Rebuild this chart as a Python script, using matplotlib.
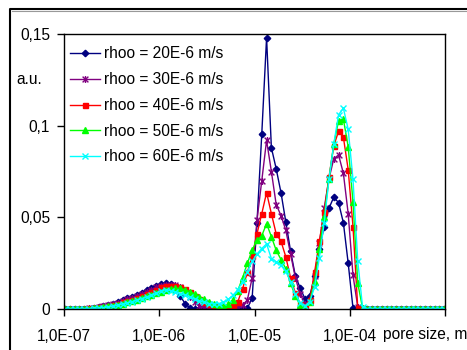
import numpy as np
import matplotlib
matplotlib.use("Agg")
import matplotlib.pyplot as plt
from matplotlib.path import Path
from matplotlib.lines import Line2D

plt.rcParams['font.family'] = ['Liberation Sans', 'DejaVu Sans']

# ---- data ----
log_start = -6.99
log_step = 0.0504
n_points = 80
pore_size = 10 ** (log_start + log_step * np.arange(n_points))

labels = ["rhoo = 20E-6 m/s", "rhoo = 30E-6 m/s", "rhoo = 40E-6 m/s",
          "rhoo = 50E-6 m/s", "rhoo = 60E-6 m/s"]

s20 = ([0]*6 +
       [0.0005, 0.001, 0.0016, 0.0022, 0.003, 0.0037, 0.0047, 0.0058, 0.0068, 0.0078,
        0.009, 0.0102, 0.0115, 0.0128, 0.0137, 0.0143, 0.0135, 0.0115, 0.0072, 0.003, 0.0006] +
       [0]*11 +
       [0.0003, 0.0062, 0.047, 0.0955, 0.148, 0.088, 0.0765, 0.0635, 0.0476, 0.0315,
        0.018, 0.0115, 0.0055, 0.007, 0.018, 0.033, 0.045, 0.055, 0.061, 0.058,
        0.047, 0.025, 0.0005] +
       [0]*19)

s30 = ([0]*5 +
       [0.0003, 0.0006, 0.001, 0.0015, 0.002, 0.0027, 0.0034, 0.0042, 0.0052, 0.0062,
        0.0072, 0.0083, 0.0094, 0.0106, 0.0118, 0.0128, 0.0133, 0.0133, 0.013, 0.0118,
        0.0098, 0.0065, 0.0038, 0.0018, 0.0008, 0.0002] +
       [0]*4 +
       [0.0002, 0.0005, 0.002, 0.005, 0.017, 0.0485, 0.07, 0.092, 0.075, 0.057,
        0.051, 0.043, 0.03, 0.017, 0.008, 0.003, 0.004, 0.018, 0.036, 0.055,
        0.071, 0.082, 0.084, 0.074, 0.052, 0.0185, 0.001] +
       [0]*18)

s40 = ([0]*5 +
       [0.0003, 0.0006, 0.0009, 0.0013, 0.0017, 0.0022, 0.0029, 0.0036, 0.0043, 0.005,
        0.006, 0.007, 0.0081, 0.0092, 0.0105, 0.0118, 0.0123, 0.0126, 0.0126, 0.012,
        0.011, 0.0092, 0.0073, 0.0055, 0.0038, 0.0025, 0.0014, 0.0007, 0.0005, 0.0008,
        0.0015, 0.004, 0.011, 0.02, 0.029, 0.041, 0.052, 0.0635, 0.052, 0.041,
        0.037, 0.0285, 0.017, 0.0086, 0.0027, 0.0015, 0.005, 0.02, 0.037, 0.053,
        0.072, 0.089, 0.097, 0.0937, 0.076, 0.045, 0.0004] +
       [0]*18)

s50 = ([0]*5 +
       [0.0002, 0.0004, 0.0007, 0.001, 0.0014, 0.0018, 0.0024, 0.003, 0.0036, 0.0043,
        0.0051, 0.006, 0.0069, 0.0078, 0.0087, 0.0095, 0.0105, 0.011, 0.0113, 0.0112,
        0.0105, 0.0095, 0.0082, 0.0068, 0.0052, 0.0038, 0.0026, 0.0018, 0.0017, 0.0025,
        0.005, 0.01, 0.017, 0.025, 0.032, 0.0375, 0.04, 0.0465, 0.0395, 0.032,
        0.027, 0.022, 0.014, 0.007, 0.002, 0.0008, 0.004, 0.015, 0.033, 0.05,
        0.071, 0.09, 0.1027, 0.1035, 0.0885, 0.0585, 0.014, 0.0003] +
       [0]*17)

s60 = ([0]*5 +
       [0.0002, 0.0003, 0.0005, 0.0008, 0.0011, 0.0015, 0.002, 0.0027, 0.0033, 0.004,
        0.0048, 0.0057, 0.0066, 0.0075, 0.0085, 0.0098, 0.0105, 0.01, 0.0093, 0.0083,
        0.0075, 0.0065, 0.0054, 0.0045, 0.0036, 0.003, 0.0028, 0.003, 0.0036, 0.0052,
        0.0075, 0.0105, 0.015, 0.0204, 0.026, 0.03, 0.033, 0.0355, 0.0275, 0.0258,
        0.0238, 0.0205, 0.015, 0.008, 0.0035, 0.0018, 0.004, 0.012, 0.028, 0.047,
        0.0707, 0.09, 0.106, 0.1095, 0.098, 0.0707, 0.026, 0.001] +
       [0]*17)

series = [s20, s30, s40, s50, s60]
colors = ["#000080", "#800080", "#FF0000", "#00FF00", "#00FFFF"]

x_ticks = [1e-7, 1e-6, 1e-5, 1e-4]
x_ticklabels = ["1,0E-07", "1,0E-06", "1,0E-05", "1,0E-04"]
y_ticks = [0, 0.05, 0.1, 0.15]
y_ticklabels = ["0", "0,05", "0,1", "0,15"]

# star marker (x with vertical bar), Excel style
star = Path([(-1, -1), (1, 1), (-1, 1), (1, -1), (0, -1.2), (0, 1.2)],
            [Path.MOVETO, Path.LINETO] * 3)
markers = ["D", star, "s", "^", "x"]
msizes = [3.3, 5, 3.6, 4.2, 5]

FS = 11.2
W, H = 467, 350
fig = plt.figure(figsize=(W / 100, H / 100), dpi=100)
ax = fig.add_axes([64 / W, 1 - 309 / H, 381 / W, 275 / H])

for s, c, m, ms, lab in zip(series, colors, markers, msizes, labels):
    ax.plot(pore_size, s, color=c, lw=1.0, marker=m, ms=ms,
            mfc=c, mec=c, mew=1.0, label=lab, clip_on=True)

ax.set_xscale('log')
ax.set_xlim(1e-7, 1e-3)
ax.set_ylim(0, 0.15)
ax.xaxis.set_minor_locator(matplotlib.ticker.NullLocator())
ax.set_xticks(x_ticks + [1e-3])
ax.set_xticklabels(x_ticklabels + [""])
ax.set_yticks(y_ticks)
ax.set_yticklabels(y_ticklabels)
ax.tick_params(axis='both', direction='out', length=5, width=1, labelsize=FS,
               colors='black')
ax.tick_params(axis='y', pad=5)
ax.tick_params(axis='x', pad=9.5)
for sp in ax.spines.values():
    sp.set_color('black')
    sp.set_linewidth(1.0)

leg = ax.legend(loc='upper left', bbox_to_anchor=(70 / W, 1 - 46.5 / H),
                bbox_transform=fig.transFigure, frameon=False, fontsize=FS,
                handlelength=1.92, handletextpad=0.26, labelspacing=0.69,
                borderpad=0, borderaxespad=0)

fig.text(16 / W, 1 - 79 / H, "a.u.", fontsize=FS, ha='left', va='center')
fig.text(383 / W, 1 - 335 / H, "pore size, m", fontsize=FS, ha='left', va='center')

# outer chart border
fig.add_artist(Line2D([10 / W, 10 / W, 1], [0, 1 - 8.5 / H, 1 - 8.5 / H],
                      transform=fig.transFigure, color='black', lw=1.5))
fig.add_artist(Line2D([11.5 / W, 1], [1 - 10.8 / H, 1 - 10.8 / H],
                      transform=fig.transFigure, color='#999999', lw=0.8))

fig.savefig("out.png", dpi=100)
